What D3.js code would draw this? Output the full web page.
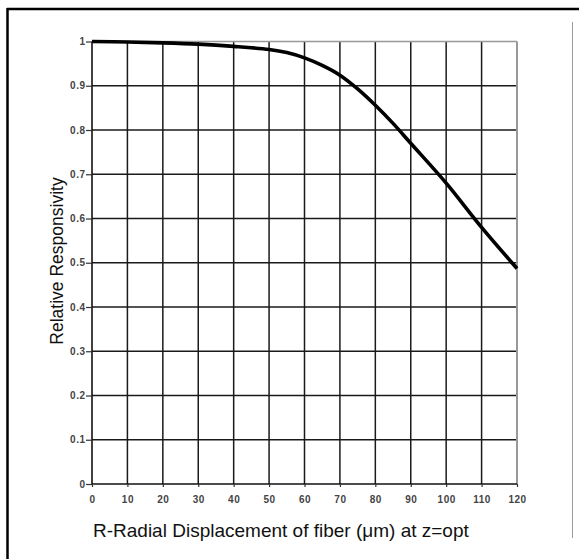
<!DOCTYPE html>
<html><head><meta charset="utf-8">
<script src="https://cdn.jsdelivr.net/npm/d3@7/dist/d3.min.js"></script>
<style>body{margin:0;background:#fff}svg{display:block}</style>
</head><body>
<svg id="c" width="579" height="559"></svg>
<script>
const xValues = [0,10,20,30,40,50,55,60,65,70,75,80,85,90,100,110,120];
const responsivity = [1.0,0.999,0.997,0.994,0.989,0.982,0.975,0.963,0.946,0.924,0.893,0.856,0.815,0.77,0.68,0.58,0.487];
const xTicks = [0,10,20,30,40,50,60,70,80,90,100,110,120];
const yTicks = [0,0.1,0.2,0.3,0.4,0.5,0.6,0.7,0.8,0.9,1];
const yTickLabels = ["0","0.1","0.2","0.3","0.4","0.5","0.6","0.7","0.8","0.9","1"];
const xTitle = "R-Radial Displacement of fiber (\u03BCm) at z=opt";
const yTitle = "Relative Responsivity";

const svg = d3.select("#c");
const L=92,R=517,T=41.5,B=484;
const x = d3.scaleLinear().domain([0,120]).range([L,R]);
const y = d3.scaleLinear().domain([0,1]).range([B,T]);
const FONT = "Liberation Sans, Arial, sans-serif";

// outer frame
svg.append("line").attr("x1",7).attr("x2",579).attr("y1",9).attr("y2",9).attr("stroke","#000").attr("stroke-width",2.5);
svg.append("line").attr("x1",7.5).attr("x2",7.5).attr("y1",8).attr("y2",559).attr("stroke","#000").attr("stroke-width",2.5);
svg.append("line").attr("x1",572.5).attr("x2",572.5).attr("y1",22).attr("y2",538).attr("stroke","#999").attr("stroke-width",1);

const g = svg.append("g");
g.selectAll(".vg").data(xTicks.filter(d=>d>0&&d<120)).join("line")
 .attr("x1",d=>x(d)).attr("x2",d=>x(d)).attr("y1",T).attr("y2",B)
 .attr("stroke","#1a1a1a").attr("stroke-width",1.5);
g.selectAll(".hg").data(yTicks.filter(d=>d>0&&d<1)).join("line")
 .attr("x1",L).attr("x2",R).attr("y1",d=>y(d)).attr("y2",d=>y(d))
 .attr("stroke","#1a1a1a").attr("stroke-width",1.5);
g.append("line").attr("x1",L).attr("x2",R).attr("y1",T).attr("y2",T).attr("stroke","#999").attr("stroke-width",1.5);
g.append("line").attr("x1",R).attr("x2",R).attr("y1",T).attr("y2",B).attr("stroke","#999").attr("stroke-width",2);

const yAxis = d3.axisLeft(y).tickValues(yTicks).tickSize(6).tickFormat((d,i)=>yTickLabels[i]);
const ya = svg.append("g").attr("transform",`translate(${L},0)`).call(yAxis);
ya.select(".domain").attr("stroke","#111").attr("stroke-width",1.6).attr("d",`M0,${T}V${B}`);
ya.selectAll(".tick line").attr("stroke","#333").attr("stroke-width",1.2);
ya.selectAll(".tick text").attr("font-family",FONT).attr("font-size",10).attr("font-weight","bold")
 .attr("letter-spacing",0.5).attr("fill","#444").attr("x",-6.5);

const xAxis = d3.axisBottom(x).tickValues(xTicks).tickSize(3).tickFormat(d3.format("d"));
const xa = svg.append("g").attr("transform",`translate(0,${B})`).call(xAxis);
xa.select(".domain").attr("stroke","#111").attr("stroke-width",1.6).attr("d",`M${L},0H${R}`);
xa.selectAll(".tick line").attr("stroke","#333").attr("stroke-width",1.2);
xa.selectAll(".tick text").attr("font-family",FONT).attr("font-size",10).attr("font-weight","bold")
 .attr("letter-spacing",0.5).attr("fill","#444").attr("y",12);

const pts = xValues.map((d,i)=>[d,responsivity[i]]);
svg.append("path").datum(pts)
 .attr("d",d3.line().x(d=>x(d[0])).y(d=>y(d[1])).curve(d3.curveCatmullRom))
 .attr("fill","none").attr("stroke","#000").attr("stroke-width",3.6).attr("stroke-linecap","butt");

svg.append("text").attr("x",93).attr("y",537).attr("font-family",FONT)
 .attr("font-size",19).attr("fill","#111").text(xTitle);
svg.append("text").attr("transform","translate(63,261) rotate(-90)").attr("text-anchor","middle")
 .attr("font-family",FONT).attr("font-size",17.5).attr("fill","#111").text(yTitle);
</script>
</body></html>
